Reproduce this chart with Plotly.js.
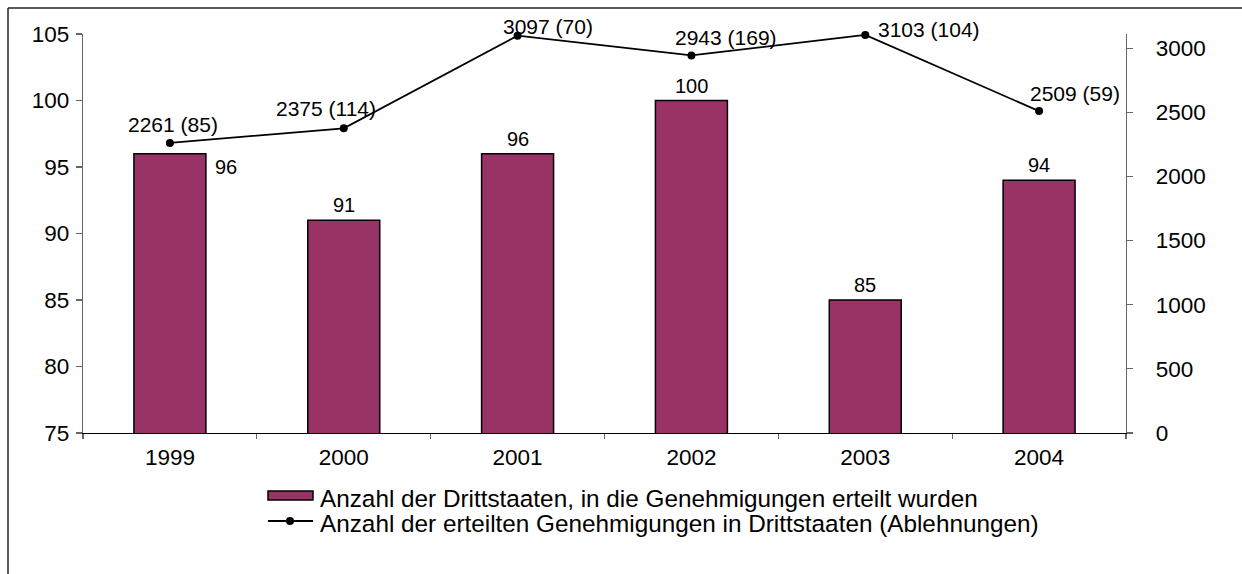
<!DOCTYPE html>
<html>
<head>
<meta charset="utf-8">
<script src="https://cdn.plot.ly/plotly-3.0.1.min.js"></script>
<style>html,body{margin:0;padding:0;background:#fff;}#chart{width:1242px;height:574px;}</style>
</head>
<body>
<div id="chart"></div>
<script>
// ---- data ----
const years = ['1999', '2000', '2001', '2002', '2003', '2004'];
const countries = [96, 91, 96, 100, 85, 94];            // Anzahl der Drittstaaten
const permits = [2261, 2375, 3097, 2943, 3103, 2509];   // erteilte Genehmigungen
const refusals = [85, 114, 70, 169, 104, 59];           // Ablehnungen
const barName = 'Anzahl der Drittstaaten, in die Genehmigungen erteilt wurden';
const lineName = 'Anzahl der erteilten Genehmigungen in Drittstaaten (Ablehnungen)';

// ---- styling / label placement (pixels) ----
const FONT = 'Arial, Liberation Sans, sans-serif';
const lineLabelShift = [[3, 18], [-18, 20], [30, 9], [35, 18], [64, 5], [36, 18]];
const barColor = '#993366';
const AXIS_GRAY = '#666';

const PW = 1043, PH = 399, L = 83, T = 34;
const px = x => (x - L) / PW;
const py = y => (T + PH - y) / PH;

const traces = [
  {
    type: 'bar', name: barName, x: years, y: countries,
    xaxis: 'x', yaxis: 'y',
    marker: {color: barColor, line: {color: '#000', width: 1.5}},
    hoverinfo: 'skip', showlegend: false
  },
  {
    type: 'scatter', mode: 'lines+markers', name: lineName, x: years, y: permits,
    xaxis: 'x', yaxis: 'y2', cliponaxis: false,
    line: {color: '#000', width: 1.8},
    marker: {color: '#000', size: 8},
    hoverinfo: 'skip', showlegend: false
  }
];

// annotations on a category axis are placed by category index
const annotations = [];
countries.forEach((v, i) => {
  const beside = i === 0; // first label sits to the right of its bar
  annotations.push({
    x: i, y: v, xref: 'x', yref: 'y', text: String(v), showarrow: false,
    font: {family: FONT, size: 20, color: '#000'},
    xanchor: beside ? 'left' : 'center', yanchor: 'middle',
    xshift: beside ? 43 : 0, yshift: beside ? -13 : 15
  });
});
permits.forEach((v, i) => {
  annotations.push({
    x: i, y: v, xref: 'x', yref: 'y2', text: v + ' (' + refusals[i] + ')', showarrow: false,
    font: {family: FONT, size: 21, color: '#000'},
    xanchor: 'center', yanchor: 'middle',
    xshift: lineLabelShift[i][0], yshift: lineLabelShift[i][1]
  });
});
// legend texts (drawn by hand to match the compact two-line legend)
[barName, lineName].forEach((name, i) => {
  annotations.push({
    x: px(318), y: py(i === 0 ? 498 : 523), xref: 'paper', yref: 'paper',
    text: name, showarrow: false, xanchor: 'left', yanchor: 'middle',
    font: {family: FONT, size: 24.3, color: '#000'}
  });
});

const Y2_RANGE = [0, 3110];

const layout = {
  width: 1242, height: 574,
  margin: {l: L, r: 1242 - L - PW, t: T, b: 574 - T - PH, pad: 0},
  paper_bgcolor: '#fff', plot_bgcolor: '#fff',
  font: {family: FONT, size: 20, color: '#000'},
  showlegend: false,
  bargap: 0.586,
  xaxis: {
    type: 'category', range: [-0.5, 5.5],
    showline: true, linecolor: '#000', linewidth: 1.3,
    ticks: 'outside', ticklen: 5, tickcolor: AXIS_GRAY, tickwidth: 1.2,
    tickson: 'boundaries', showgrid: false, zeroline: false,
    tickfont: {family: FONT, size: 22.5, color: '#000'}, ticklabelstandoff: 4,
    fixedrange: true
  },
  xaxis2: {
    overlaying: 'x', anchor: 'y', range: [-0.5, 5.5], showline: false,
    tickmode: 'array', tickvals: [0.5, 1.5, 2.5, 3.5, 4.5],
    ticks: 'inside', ticklen: 5, tickcolor: AXIS_GRAY, tickwidth: 1.2,
    showticklabels: false, showgrid: false, zeroline: false
  },
  yaxis: {
    range: [75, 105], dtick: 5, tick0: 75,
    showline: true, linecolor: AXIS_GRAY, linewidth: 1.3,
    ticks: 'outside', ticklen: 6, tickcolor: AXIS_GRAY, tickwidth: 1.2,
    showgrid: false, zeroline: false,
    tickfont: {family: FONT, size: 22.5, color: '#000'}, ticklabelstandoff: 2
  },
  yaxis2: {
    overlaying: 'y', side: 'right', anchor: 'x', range: Y2_RANGE, dtick: 500, tick0: 0,
    showline: true, linecolor: AXIS_GRAY, linewidth: 1.3,
    ticks: 'outside', ticklen: 6, tickcolor: AXIS_GRAY, tickwidth: 1.2,
    showgrid: false, zeroline: false,
    tickfont: {family: FONT, size: 22.5, color: '#000'}, ticklabelstandoff: 18
  },
  yaxis3: {
    overlaying: 'y', side: 'left', anchor: 'x', range: [75, 105], dtick: 5, tick0: 75,
    showline: false, ticks: 'inside', ticklen: 6, tickcolor: AXIS_GRAY, tickwidth: 1.2,
    showticklabels: false, showgrid: false, zeroline: false
  },
  yaxis4: {
    overlaying: 'y', side: 'right', anchor: 'x', range: Y2_RANGE, dtick: 500, tick0: 0,
    showline: false, ticks: 'inside', ticklen: 6, tickcolor: AXIS_GRAY, tickwidth: 1.2,
    showticklabels: false, showgrid: false, zeroline: false
  },
  annotations: annotations,
  shapes: [
    // outer frame
    {type: 'line', xref: 'paper', yref: 'paper', x0: px(8), x1: px(1250), y0: py(8), y1: py(8),
     line: {color: '#222', width: 1.5}},
    {type: 'line', xref: 'paper', yref: 'paper', x0: px(8), x1: px(8), y0: py(8), y1: py(590),
     line: {color: '#222', width: 1.5}},
    // legend keys
    {type: 'rect', xref: 'paper', yref: 'paper', x0: px(268), x1: px(313), y0: py(491), y1: py(500),
     fillcolor: barColor, line: {color: '#000', width: 1.5}},
    {type: 'line', xref: 'paper', yref: 'paper', x0: px(268), x1: px(313), y0: py(521), y1: py(521),
     line: {color: '#000', width: 1.8}},
    {type: 'circle', xref: 'paper', yref: 'paper', x0: px(286), x1: px(294), y0: py(517), y1: py(525),
     fillcolor: '#000', line: {color: '#000', width: 0}}
  ]
};

Plotly.newPlot('chart', traces, layout, {staticPlot: true, displayModeBar: false});
</script>
</body>
</html>
